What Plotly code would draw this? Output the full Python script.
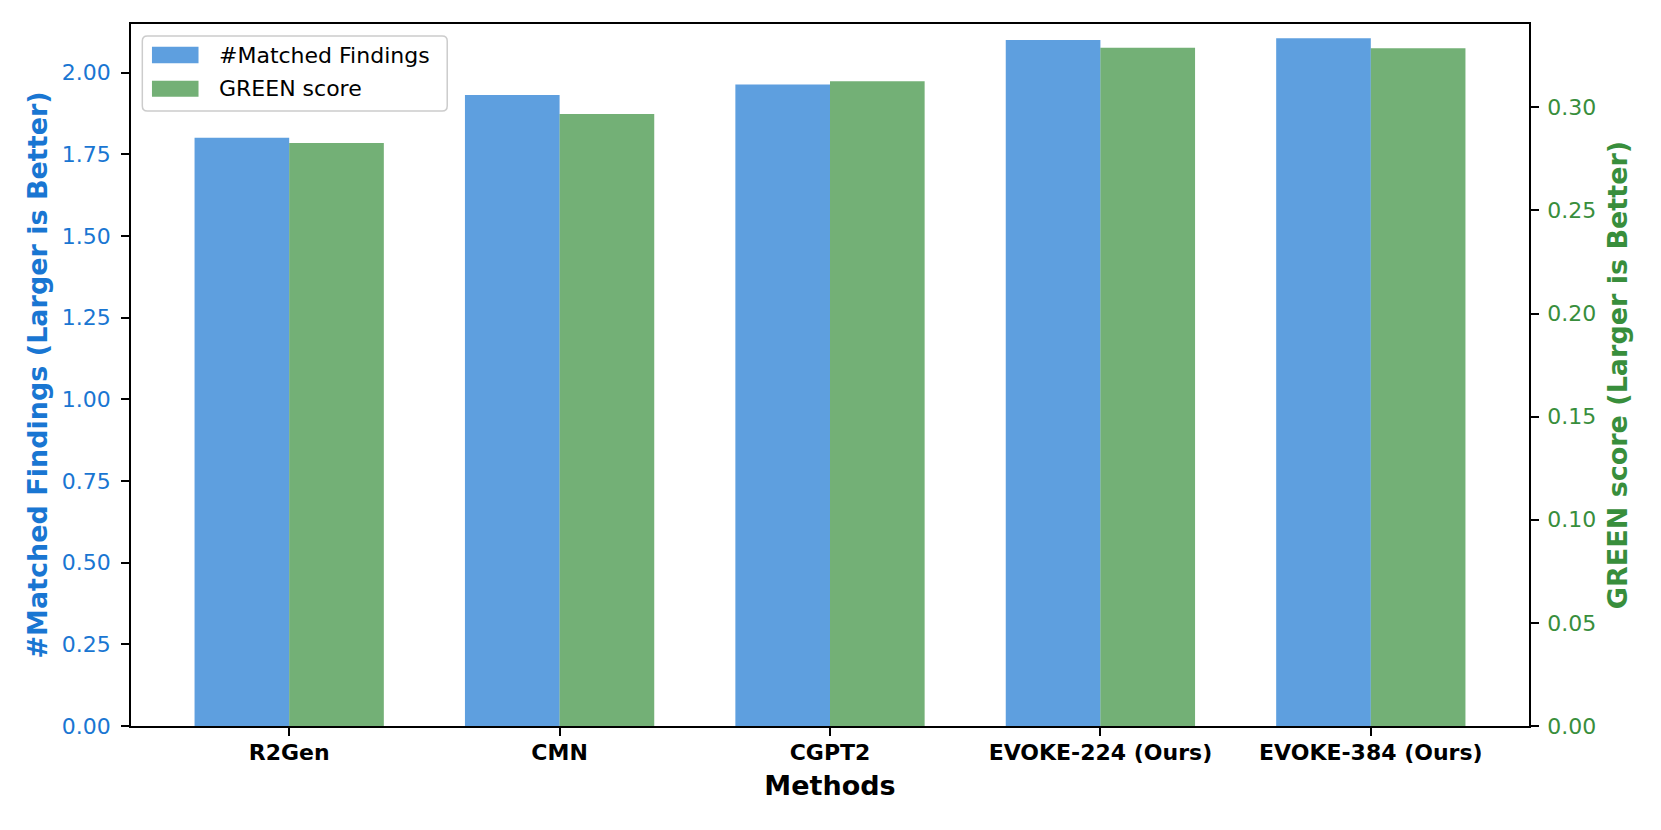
import plotly.graph_objects as go

methods = ["R2Gen", "CMN", "CGPT2", "EVOKE-224 (Ours)", "EVOKE-384 (Ours)"]
matched_findings = [1.801, 1.932, 1.964, 2.100, 2.105]
green_score = [0.2827, 0.2968, 0.3126, 0.3289, 0.3286]
series_names = ["#Matched Findings", "GREEN score"]

BLUE = "#1976D2"
GREEN = "#388E3C"
FONT = "DejaVu Sans"

# page body has an 8px default margin; figure sized to fill the rest of the window
W, H = 1653, 822

fig = go.Figure()
fig.add_trace(go.Bar(
    x=list(range(len(methods))), y=matched_findings, name=series_names[0],
    width=0.35, offset=-0.35, marker=dict(color=BLUE, opacity=0.7, line=dict(width=0)),
    yaxis="y", showlegend=False,
))
fig.add_trace(go.Bar(
    x=list(range(len(methods))), y=green_score, name=series_names[1],
    width=0.35, offset=0.0, marker=dict(color=GREEN, opacity=0.7, line=dict(width=0)),
    yaxis="y2", showlegend=False,
))

# legend (matplotlib-style: wide patches, rounded frame)
def rounded_rect(x0, y0, x1, y1, rx, ry):
    return (f"M {x0+rx},{y0} L {x1-rx},{y0} Q {x1},{y0} {x1},{y0+ry} "
            f"L {x1},{y1-ry} Q {x1},{y1} {x1-rx},{y1} L {x0+rx},{y1} "
            f"Q {x0},{y1} {x0},{y1-ry} L {x0},{y0+ry} Q {x0},{y0} {x0+rx},{y0} Z")

shapes = [
    dict(type="path", xref="paper", yref="paper",
         path=rounded_rect(0.0081, 0.8761, 0.2262, 0.9829, 0.0036, 0.0071),
         fillcolor="rgba(255,255,255,0.8)", line=dict(color="#cccccc", width=1.5), layer="above"),
    dict(type="rect", xref="paper", yref="paper", x0=0.0150, x1=0.0483, y0=0.9440, y1=0.9677,
         fillcolor=BLUE, opacity=0.7, line=dict(width=0), layer="above"),
    dict(type="rect", xref="paper", yref="paper", x0=0.0150, x1=0.0483, y0=0.8964, y1=0.9192,
         fillcolor=GREEN, opacity=0.7, line=dict(width=0), layer="above"),
]
annotations = [
    dict(xref="paper", yref="paper", x=0.0615, y=0.9558, xanchor="left", yanchor="middle",
         text=series_names[0], showarrow=False, font=dict(family=FONT, size=22, color="black")),
    dict(xref="paper", yref="paper", x=0.0615, y=0.9078, xanchor="left", yanchor="middle",
         text=series_names[1], showarrow=False, font=dict(family=FONT, size=22, color="black")),
]

fig.update_layout(
    width=W, height=H,
    margin=dict(l=123, r=132, t=16, b=104, autoexpand=False),
    plot_bgcolor="white", paper_bgcolor="white",
    font=dict(family=FONT, size=22, color="black"),
    barmode="overlay",
    shapes=shapes, annotations=annotations,
    xaxis=dict(
        range=[-0.585, 4.585], tickmode="array",
        tickvals=list(range(len(methods))),
        ticktext=["<b>%s</b>" % m for m in methods],
        showline=True, linecolor="black", linewidth=1.8, mirror=True,
        ticks="outside", ticklen=8, tickwidth=1.8, tickcolor="black",
        showgrid=False, zeroline=False,
        ticklabelstandoff=-2,
        tickfont=dict(family=FONT, size=22, color="black"),
        title=dict(text="<b>Methods</b>", font=dict(family=FONT, size=27, color="black"), standoff=12),
    ),
    yaxis=dict(
        range=[0, 2.149], tickmode="array",
        tickvals=[0, 0.25, 0.5, 0.75, 1.0, 1.25, 1.5, 1.75, 2.0],
        tickformat=".2f",
        showline=True, linecolor="black", linewidth=1.8,
        ticks="outside", ticklen=8, tickwidth=1.8, tickcolor="black",
        showgrid=False, zeroline=False,
        ticklabelstandoff=6,
        tickfont=dict(family=FONT, size=22, color=BLUE),
        title=dict(text="<b>#Matched Findings (Larger is Better)</b>", font=dict(family=FONT, size=27, color=BLUE), standoff=6),
    ),
    yaxis2=dict(
        range=[0, 0.3404], overlaying="y", side="right", tickmode="array",
        tickvals=[0, 0.05, 0.10, 0.15, 0.20, 0.25, 0.30],
        tickformat=".2f",
        showline=True, linecolor="black", linewidth=1.8,
        ticks="outside", ticklen=8, tickwidth=1.8, tickcolor="black",
        showgrid=False, zeroline=False,
        ticklabelstandoff=4,
        tickfont=dict(family=FONT, size=22, color=GREEN),
        title=dict(text="<b>GREEN score (Larger is Better)</b>", font=dict(family=FONT, size=27, color=GREEN), standoff=13),
    ),
    showlegend=False,
)

fig.write_html("out.html")
